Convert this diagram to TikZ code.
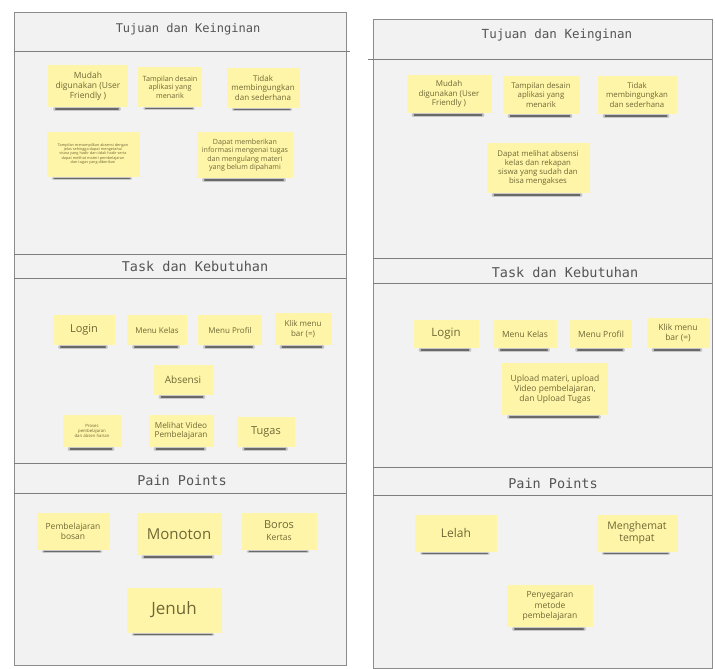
\documentclass[tikz,border=0pt]{standalone}
\usepackage{fontspec}
\setmainfont{Open Sans}
\newfontfamily\monof{DejaVu Sans Mono}
\usetikzlibrary{calc}
\definecolor{panelc}{HTML}{F2F2F2}
\definecolor{edgec}{HTML}{8C8C8C}
\definecolor{stickyc}{HTML}{FFF5A8}
\definecolor{stextc}{HTML}{6E6835}
\definecolor{titlec}{HTML}{555555}
\definecolor{shadc}{HTML}{4A4A4A}
\newcommand{\fs}[1]{\fontsize{#1}{\fpeval{#1*1.18}}\selectfont}
\begin{document}
\begin{tikzpicture}[x=1pt,y=-1pt,
  panel/.style={fill=panelc,draw=edgec,line width=1pt},
  sepline/.style={draw=edgec!90!black,line width=1pt},
  title/.style={font=\monof\fs{12.5},text=titlec},
  sticky/.style 2 args={fill=stickyc,minimum width=#1,minimum height=#2,inner sep=2pt,align=center,text=stextc}]
\useasboundingbox (0,0) rectangle (715,669);
\fill[white] (0,0) rectangle (715,669);
% ---------- left panel
\draw[panel] (14,13) rectangle (346,665);
\draw[sepline] (14,52) -- (350,52);
\draw[sepline] (14,254) -- (346,254);
\draw[sepline] (14,278) -- (346,278);
\draw[sepline] (14,463) -- (346,463);
\draw[sepline] (14,493) -- (346,493);
\node[title,font=\monof\fs{12}] (lt1) at (188,29) {Tujuan dan Keinginan};
\node[title,font=\monof\fs{13.5}] (lt2) at (195,266) {Task dan Kebutuhan};
\node[title,font=\monof\fs{13.5}] (lt3) at (182,480) {Pain Points};
% ---------- right panel
\draw[panel] (373,20) rectangle (712,668);
\draw[sepline] (368,60) -- (712,60);
\draw[sepline] (373,258) -- (712,258);
\draw[sepline] (373,283) -- (712,283);
\draw[sepline] (373,467) -- (712,467);
\draw[sepline] (373,495) -- (712,495);
\node[title,font=\monof\fs{12.5}] (rt1) at (557,35) {Tujuan dan Keinginan};
\node[title,font=\monof\fs{13.5}] (rt2) at (565,272) {Task dan Kebutuhan};
\node[title,font=\monof\fs{13.5}] (rt3) at (553,483) {Pain Points};
% ---------- left notes: tujuan
\node[sticky={80pt}{42pt},font=\fs{8.5}] (mA) at (88,86) {Mudah\\digunakan (User\\Friendly )};
\node[sticky={64pt}{39pt},font=\fs{7.2}] (mB) at (170,87) {Tampilan desain\\aplikasi yang\\menarik};
\node[sticky={73pt}{39pt},font=\fs{8}] (mC) at (263,88) {Tidak\\membingungkan\\dan sederhana};
\node[sticky={93pt}{45pt},font=\fs{3.8}] (mD) at (93,154) {Tampilan menampilkan absensi dengan\\jelas sehingga dapat mengetahui\\siswa yang hadir dan tidak hadir serta\\dapat melihat materi pembelajaran\\dan tugas yang diberikan};
\node[sticky={96pt}{46pt},font=\fs{7.1}] (mE) at (245,155) {Dapat memberikan\\informasi mengenai tugas\\dan mengulang materi\\yang belum dipahami};
% ---------- right notes: tujuan
\node[sticky={85pt}{38pt},font=\fs{8}] (nA) at (449,94) {Mudah\\digunakan (User\\Friendly )};
\node[sticky={77pt}{38pt},font=\fs{7.8}] (nB) at (541,95) {Tampilan desain\\aplikasi yang\\menarik};
\node[sticky={79pt}{38pt},font=\fs{7.8}] (nC) at (637,95) {Tidak\\membingungkan\\dan sederhana};
\node[sticky={103pt}{50pt},font=\fs{7.8}] (nD) at (538,168) {Dapat melihat absensi\\kelas dan rekapan\\siswa yang sudah dan\\bisa mengakses};
% ---------- left notes: task
\node[sticky={62pt}{30pt},font=\fs{11}] (tA) at (84,330) {Login};
\node[sticky={60pt}{30pt},font=\fs{8}] (tB) at (157,330) {Menu Kelas};
\node[sticky={64pt}{30pt},font=\fs{8}] (tC) at (230,330) {Menu Profil};
\node[sticky={57pt}{32pt},font=\fs{8}] (tD) at (303,329) {Klik menu\\bar (=)};
\node[sticky={59pt}{30pt},font=\fs{10}] (tE) at (183,380) {Absensi};
\node[sticky={59pt}{32pt},font=\fs{4.3}] (tF) at (92,431) {Proses\\pembelajaran\\dan absen harian};
\node[sticky={65pt}{32pt},font=\fs{8.2}] (tG) at (181,431) {Melihat Video\\Pembelajaran};
\node[sticky={58pt}{30pt},font=\fs{11}] (tH) at (266,432) {Tugas};
% ---------- right notes: task
\node[sticky={65pt}{28pt},font=\fs{11.5}] (uA) at (446,334) {Login};
\node[sticky={64pt}{28pt},font=\fs{8.5}] (uB) at (525,334) {Menu Kelas};
\node[sticky={62pt}{28pt},font=\fs{8.5}] (uC) at (601,334) {Menu Profil};
\node[sticky={63pt}{30pt},font=\fs{8.5}] (uD) at (678,333) {Klik menu\\bar (=)};
\node[sticky={106pt}{52pt},font=\fs{8.5}] (uE) at (555,389) {Upload materi, upload\\Video pembelajaran,\\dan Upload Tugas};
% ---------- left notes: pain
\node[sticky={73pt}{37pt},font=\fs{8.5}] (pA) at (73,531) {Pembelajaran\\bosan};
\node[sticky={85pt}{42pt},font=\fs{15}] (pB) at (179,534) {Monoton};
\node[sticky={75pt}{37pt}] (pC) at (279,531) {{\fs{11}Boros}\\{\fs{8.5}Kertas}};
\node[sticky={95pt}{45pt},font=\fs{17}] (pD) at (174,610) {Jenuh};
% ---------- right notes: pain
\node[sticky={82pt}{37pt},font=\fs{12}] (qA) at (456,533) {Lelah};
\node[sticky={81pt}{37pt},font=\fs{10.5}] (qB) at (637,533) {Menghemat\\tempat};
\node[sticky={86pt}{42pt},font=\fs{8.5}] (qC) at (550,606) {Penyegaran\\metode\\pembelajaran};
% ---------- shadows
\foreach \n in {mA,mB,mC,mD,mE,nA,nB,nC,nD,tA,tB,tC,tD,tE,tF,tG,tH,uA,uB,uC,uD,uE,pA,pB,pC,pD,qA,qB,qC}{
  \draw[shadc,opacity=0.25,line width=3.5pt,line cap=round] ($(\n.south west)+(7,1.8)$) -- ($(\n.south east)+(-9,1.8)$);
  \draw[shadc,opacity=0.75,line width=1.6pt,line cap=round] ($(\n.south west)+(8,1.6)$) -- ($(\n.south east)+(-10,1.6)$);
}
\end{tikzpicture}
\end{document}
